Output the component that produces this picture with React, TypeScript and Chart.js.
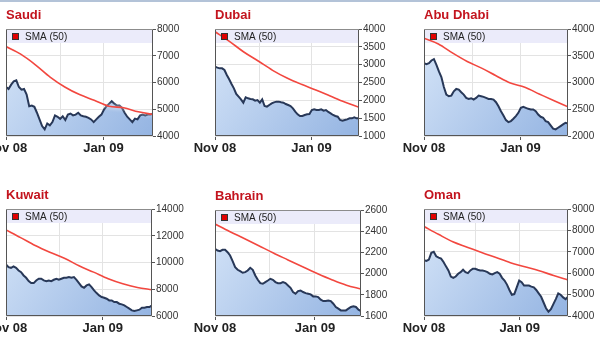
import React, { useEffect, useRef } from 'react';
import { Chart, registerables } from 'chart.js';

Chart.register(...registerables);

// ---------- DATA ----------
const monthLabels = ['Nov 08', '', 'Jan 09'];
const legendLabel = 'SMA (50)';

const saudiValues = [5833,5760,5920,6040,6080,5830,5730,5760,5550,5115,5140,5090,4870,4620,4370,4250,4470,4400,4520,4770,4720,4640,4740,4600,4800,4840,4770,4800,4870,4770,4740,4720,4680,4620,4520,4620,4720,4800,4990,5115,5210,5300,5210,5140,5140,5050,4870,4720,4620,4520,4650,4620,4770,4800,4770,4800,4800,4840];
const saudiSma = [7344,7059,6663,6204,5833,5548,5337,5115,5053,4904,4805];
const saudiMonthIdx = [0, 21, 37.8];
const saudiYTicks = [4000, 8000, 1000];

const dubaiValues = [2944,2916,2897,2897,2850,2710,2589,2458,2336,2178,2103,2028,1935,2084,2056,2037,2028,1991,2009,1935,2028,1841,1822,1869,1916,1944,1963,1963,1944,1935,1897,1869,1841,1776,1682,1607,1561,1561,1589,1607,1617,1729,1748,1729,1729,1748,1710,1729,1673,1636,1589,1561,1542,1449,1430,1449,1467,1495,1495,1523,1495,1495];
const dubaiSma = [3925,3654,3355,3103,2841,2626,2449,2290,2121,1953,1804];
const dubaiMonthIdx = [0, 18.8, 40.9];
const dubaiYTicks = [1000, 4000, 500];

const abuDhabiValues = [3362,3344,3362,3412,3437,3331,3207,3102,2916,2774,2743,2755,2836,2879,2867,2817,2774,2712,2693,2706,2681,2712,2755,2743,2731,2712,2693,2693,2681,2632,2557,2464,2384,2297,2260,2279,2322,2372,2433,2526,2545,2526,2508,2495,2495,2464,2402,2359,2341,2279,2260,2198,2136,2124,2155,2186,2217,2248,2235];
const abuDhabiSma = [3827,3721,3548,3393,3269,3127,2991,2910,2786,2663,2545];
const abuDhabiMonthIdx = [0, 19.5, 38.9];
const abuDhabiYTicks = [2000, 4000, 500];

const kuwaitValues = [9851,9652,9602,9702,9602,9404,9280,9031,8857,8609,8460,8460,8658,8783,8783,8658,8609,8658,8609,8708,8783,8708,8783,8857,8857,8907,8857,8907,8708,8460,8211,8112,8286,8360,8161,7913,7714,7540,7416,7366,7292,7168,7168,7043,7043,6919,6870,6795,6671,6547,6422,6373,6422,6472,6621,6621,6671,6671,6795];
const kuwaitSma = [12435,11863,11267,10770,10323,9752,9280,8783,8410,8137,7963];
const kuwaitMonthIdx = [0, 21.2, 38.4];
const kuwaitYTicks = [6000, 14000, 2000];

const bahrainValues = [2233,2218,2211,2224,2224,2202,2171,2117,2061,2036,2023,2008,2014,2029,2055,2036,1982,1942,1910,1904,1920,1935,1951,1942,1920,1910,1910,1920,1910,1888,1866,1826,1810,1835,1841,1826,1816,1810,1804,1785,1785,1779,1754,1741,1741,1747,1741,1716,1685,1669,1653,1653,1653,1669,1685,1691,1685,1660,1647];
const bahrainSma = [2468,2398,2331,2263,2194,2129,2064,2001,1942,1890,1855];
const bahrainMonthIdx = [0, 21.6, 39.7];
const bahrainYTicks = [1600, 2600, 200];

const omanValues = [6603,6571,6634,6950,6997,6792,6729,6681,6524,6319,6129,5845,5782,5845,5972,6050,6161,6050,6003,6129,6208,6208,6161,6129,6129,6098,6050,5972,5940,6003,6050,5972,5782,5656,5467,5215,4994,5025,5341,5656,5577,5420,5420,5420,5372,5341,5215,5057,4899,4631,4363,4205,4315,4552,4789,5057,4994,4868,4789,4899];
const omanSma = [8180,7817,7470,7218,6965,6729,6492,6303,6114,5893,5688];
const omanMonthIdx = [0, 21.2, 39.2];
const omanYTicks = [4000, 9000, 1000];

// ---------- LAYOUT ----------
const PAD_L = 30;
const Y_W = 36;
const TOP_H = 29;
const X_H = 24;
const FONT = '"Liberation Sans", Arial, sans-serif';

type PanelDef = {
  title: string;
  values: number[];
  sma: number[];
  monthIdx: number[];
  yTicks: number[];
  l: number; t: number; r: number; b: number;
};

const panels: PanelDef[] = [
  { title: 'Saudi', values: saudiValues, sma: saudiSma, monthIdx: saudiMonthIdx, yTicks: saudiYTicks, l: 6, t: 29, r: 153, b: 136 },
  { title: 'Dubai', values: dubaiValues, sma: dubaiSma, monthIdx: dubaiMonthIdx, yTicks: dubaiYTicks, l: 215, t: 29, r: 359, b: 136 },
  { title: 'Abu Dhabi', values: abuDhabiValues, sma: abuDhabiSma, monthIdx: abuDhabiMonthIdx, yTicks: abuDhabiYTicks, l: 424, t: 29, r: 568, b: 136 },
  { title: 'Kuwait', values: kuwaitValues, sma: kuwaitSma, monthIdx: kuwaitMonthIdx, yTicks: kuwaitYTicks, l: 6, t: 209, r: 152, b: 316 },
  { title: 'Bahrain', values: bahrainValues, sma: bahrainSma, monthIdx: bahrainMonthIdx, yTicks: bahrainYTicks, l: 215, t: 210, r: 361, b: 316 },
  { title: 'Oman', values: omanValues, sma: omanSma, monthIdx: omanMonthIdx, yTicks: omanYTicks, l: 424, t: 209, r: 568, b: 316 },
];

const panelPlugin = {
  id: 'panelDeco',
  beforeDatasetsDraw(chart: any) {
    const a = chart.chartArea;
    const ctx = chart.ctx;
    ctx.save();
    ctx.fillStyle = '#ebebfa';
    ctx.fillRect(a.left + 1, a.top + 1, a.right - a.left - 2, 13);
    ctx.restore();
  },
  beforeDatasetDraw(chart: any, args: any) {
    if (args.index === 0) {
      const ctx = chart.ctx;
      ctx.save();
      ctx.shadowColor = 'rgba(255,255,255,1)';
      ctx.shadowBlur = 4;
    }
  },
  afterDatasetDraw(chart: any, args: any) {
    if (args.index === 0) chart.ctx.restore();
  },
  afterDatasetsDraw(chart: any) {
    const a = chart.chartArea;
    const ctx = chart.ctx;
    ctx.save();
    ctx.fillStyle = '#e00000';
    ctx.fillRect(a.left + 6, a.top + 4, 7, 7);
    ctx.strokeStyle = '#333';
    ctx.lineWidth = 1;
    ctx.strokeRect(a.left + 6.5, a.top + 4.5, 6, 6);
    ctx.fillStyle = '#222';
    ctx.font = '10px ' + FONT;
    ctx.textBaseline = 'middle';
    ctx.textAlign = 'left';
    ctx.fillText(legendLabel, a.left + 19, a.top + 8);
    ctx.restore();
  },
  afterDraw(chart: any) {
    const a = chart.chartArea;
    const ctx = chart.ctx;
    ctx.save();
    ctx.lineWidth = 1;
    ctx.strokeStyle = '#555';
    ctx.beginPath();
    ctx.moveTo(a.left + 0.5, a.top);
    ctx.lineTo(a.left + 0.5, a.bottom - 0.5);
    ctx.lineTo(a.right - 0.5, a.bottom - 0.5);
    ctx.lineTo(a.right - 0.5, a.top);
    ctx.stroke();
    ctx.strokeStyle = '#8c8c8c';
    ctx.beginPath();
    ctx.moveTo(a.left, a.top + 0.5);
    ctx.lineTo(a.right, a.top + 0.5);
    ctx.stroke();
    ctx.restore();
  },
};

function Panel({ p }: { p: PanelDef }) {
  const ref = useRef<HTMLCanvasElement>(null);
  const w = PAD_L + (p.r - p.l) + Y_W;
  const h = TOP_H + (p.b - p.t) + X_H;
  useEffect(() => {
    if (!ref.current) return;
    const n = p.values.length;
    const mainData = p.values.map((v, i) => ({ x: i, y: v }));
    const smaData = p.sma.map((v, j) => ({ x: (j / (p.sma.length - 1)) * (n - 1), y: v }));
    const chart = new Chart(ref.current, {
      type: 'line',
      data: {
        datasets: [
          {
            label: legendLabel,
            data: smaData,
            borderColor: '#f2473f',
            borderWidth: 1.6,
            pointRadius: 0,
            fill: false,
            tension: 0.4,
            cubicInterpolationMode: 'monotone',
          },
          {
            label: p.title,
            data: mainData,
            borderColor: '#283858',
            borderWidth: 2,
            pointRadius: 0,
            tension: 0,
            fill: 'start',
            backgroundColor: (ctx: any) => {
              const a = ctx.chart.chartArea;
              if (!a) return '#b5cdee';
              const g = ctx.chart.ctx.createLinearGradient(a.left, a.top, a.right, a.bottom);
              g.addColorStop(0, '#d6e5f8');
              g.addColorStop(1, '#94b4e2');
              return g;
            },
          },
        ],
      },
      options: {
        animation: false,
        responsive: false,
        events: [],
        layout: { padding: { left: PAD_L, right: 0, top: 0, bottom: 0 }, autoPadding: false } as any,
        plugins: {
          legend: { display: false },
          tooltip: { enabled: false },
          title: {
            display: true,
            text: p.title,
            align: 'start',
            color: '#c3141e',
            font: { family: FONT, size: 13, weight: 'bold', lineHeight: 1.2 },
            padding: { top: 8, bottom: 5.4 },
          },
        },
        scales: {
          x: {
            type: 'linear',
            min: 0,
            max: n - 1,
            afterBuildTicks: (s: any) => {
              s.ticks = p.monthIdx.map((v) => ({ value: v }));
            },
            afterFit: (s: any) => {
              s.height = X_H;
            },
            border: { display: false },
            grid: {
              color: '#e3e3e3',
              tickColor: (c: any) => (c.index === 1 ? 'rgba(0,0,0,0)' : '#555'),
              tickLength: 4,
            },
            ticks: {
              autoSkip: false,
              maxRotation: 0,
              padding: 1,
              color: '#222',
              font: { family: FONT, size: 13, weight: 'bold' },
              callback: (_v: any, i: number) => monthLabels[i],
            },
          },
          y: {
            position: 'right',
            min: p.yTicks[0],
            max: p.yTicks[1],
            afterFit: (s: any) => {
              s.width = Y_W;
            },
            border: { display: false },
            grid: { color: '#e3e3e3', tickColor: '#555', tickLength: 3 },
            ticks: {
              stepSize: p.yTicks[2],
              padding: 1,
              color: '#333',
              font: { family: FONT, size: 10 },
              callback: (v: any) => String(v),
            },
          },
        },
      } as any,
      plugins: [panelPlugin],
    });
    return () => chart.destroy();
  }, [p]);
  return (
    <div style={{ position: 'absolute', left: p.l - PAD_L, top: p.t - TOP_H, width: w, height: h }}>
      <canvas ref={ref} width={w} height={h} style={{ display: 'block', width: w, height: h }} />
    </div>
  );
}

export default function App() {
  return (
    <div
      style={{
        position: 'fixed',
        left: 0,
        top: 0,
        width: 600,
        height: 343,
        overflow: 'hidden',
        background: '#ffffff',
      }}
    >
      <div style={{ position: 'absolute', left: 0, top: 0, width: 600, height: 2, background: '#b3c3d8' }} />
      {panels.map((p) => (
        <Panel key={p.title} p={p} />
      ))}
    </div>
  );
}
